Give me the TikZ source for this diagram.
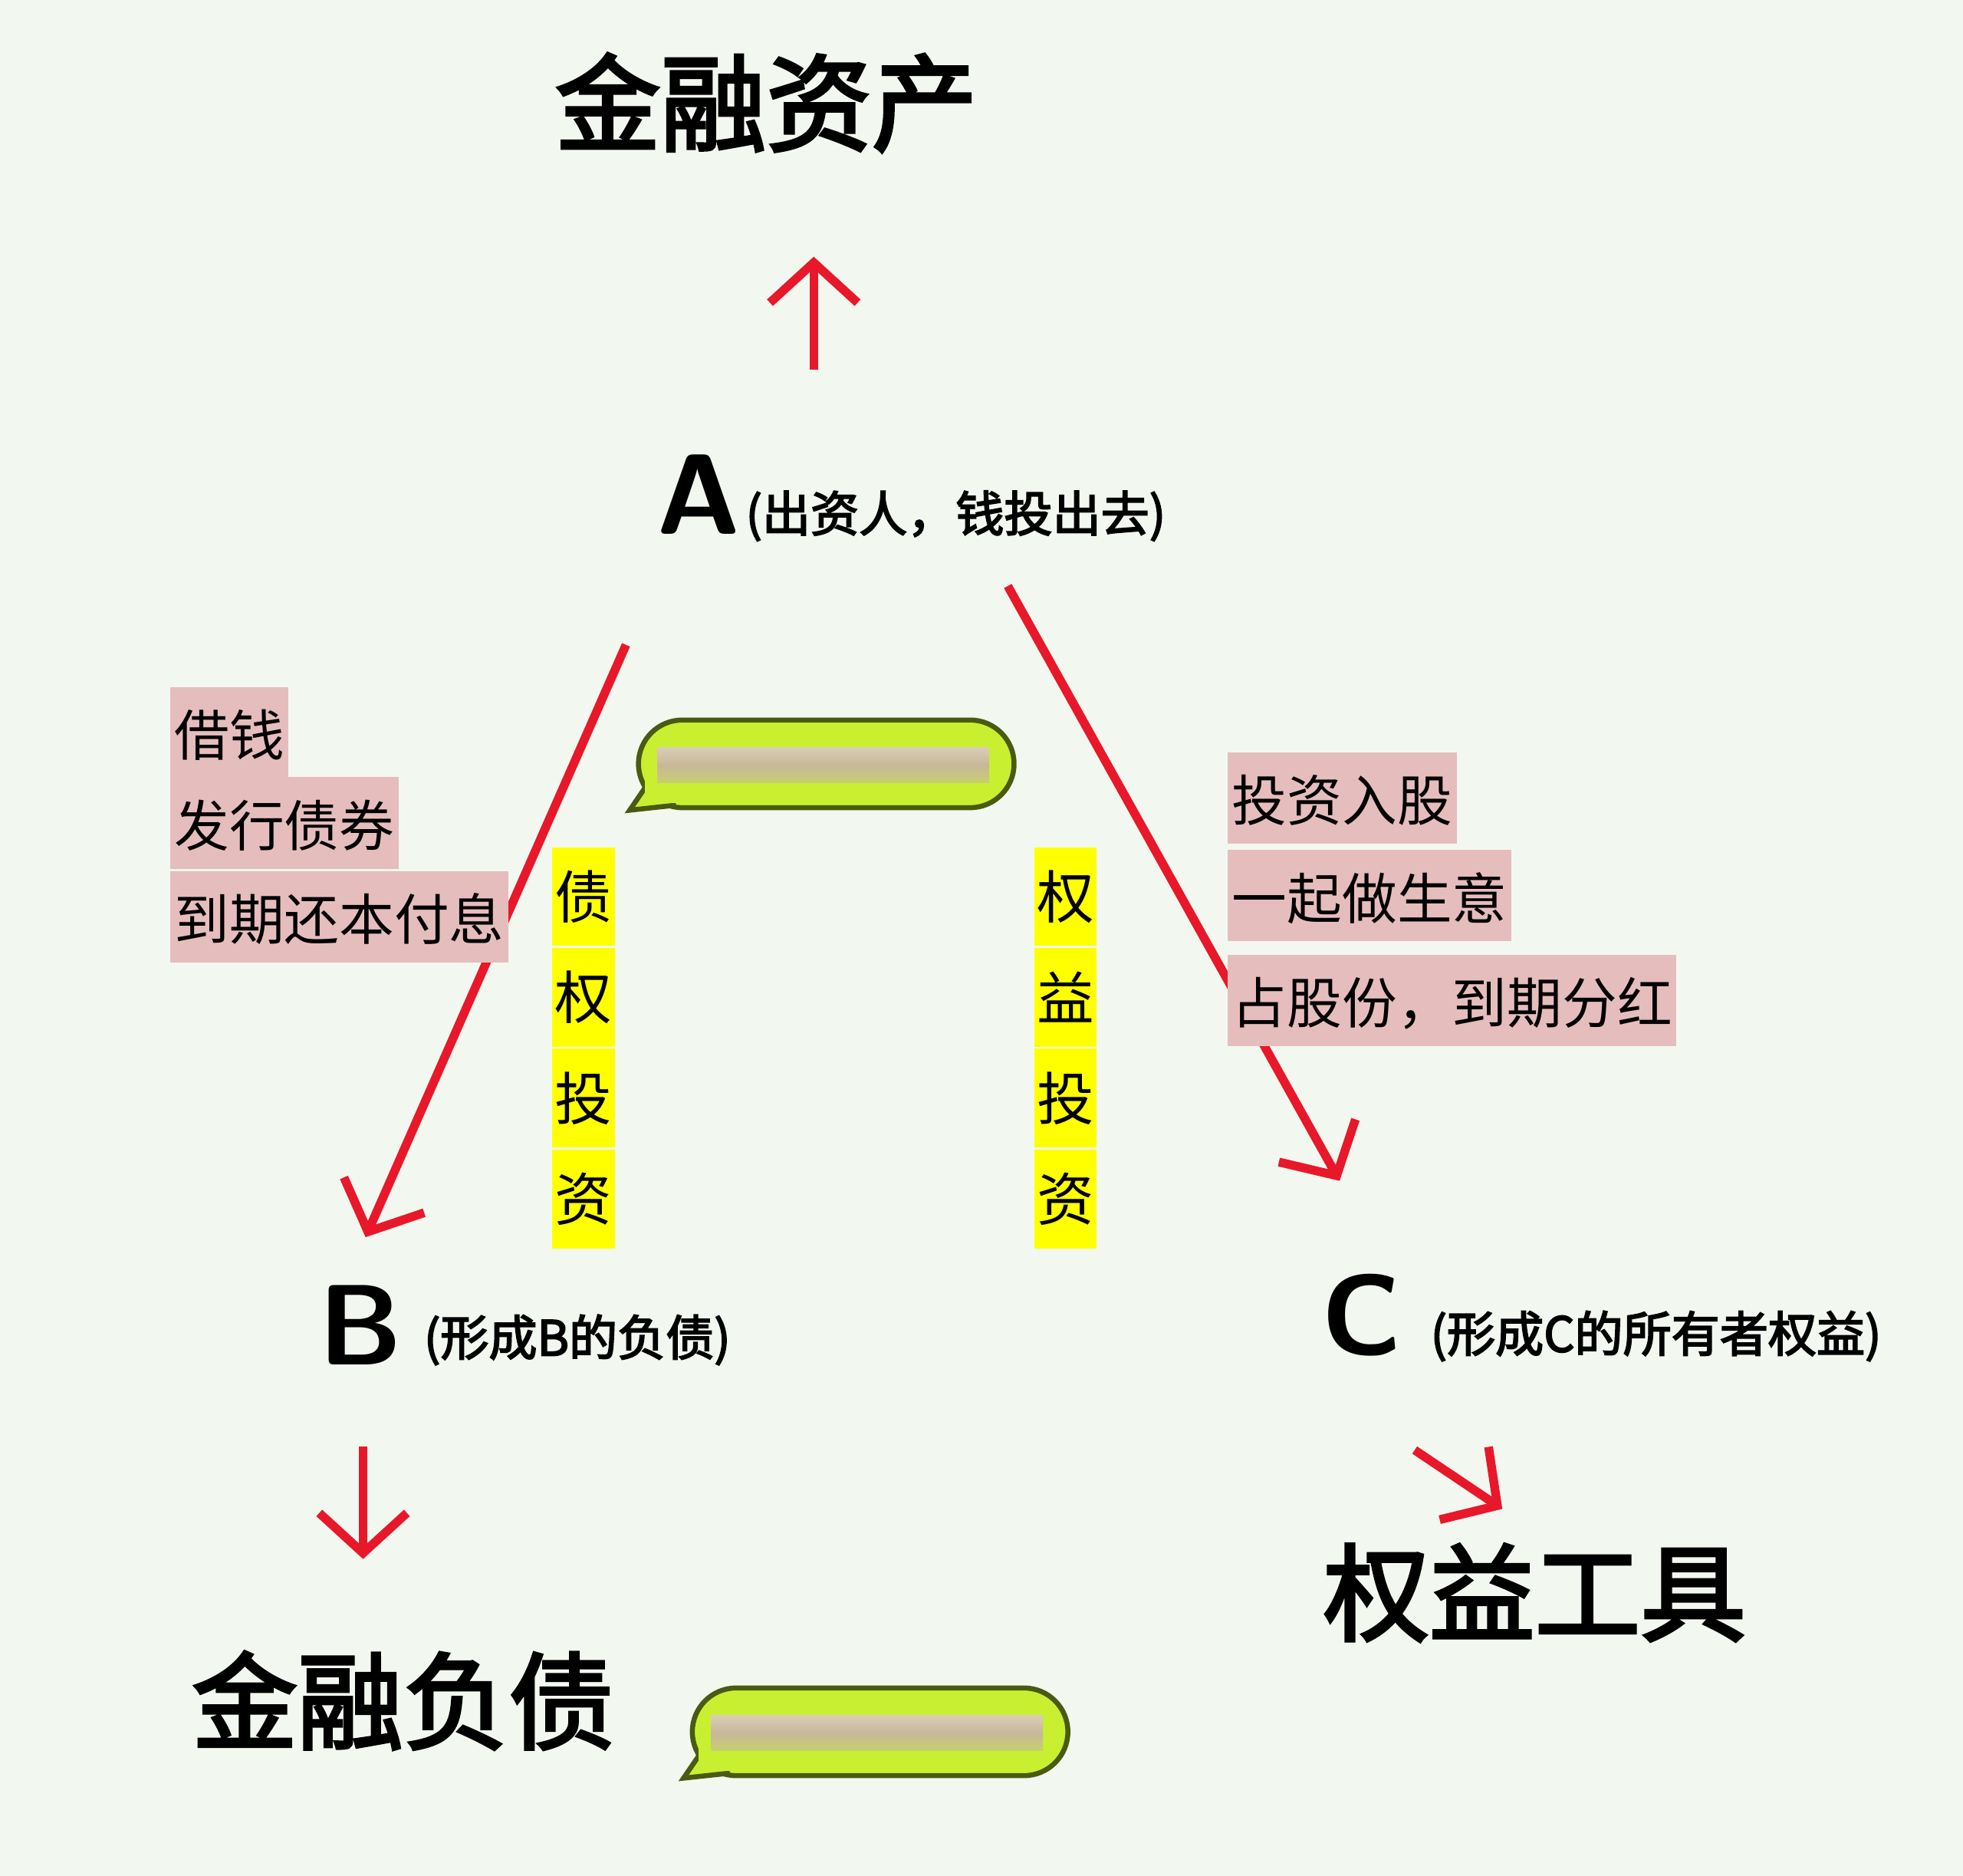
\documentclass[tikz,border=0pt]{standalone}
\usepackage{fontspec}
\usepackage{tikz}
\usetikzlibrary{arrows.meta}
\newfontfamily\cjk{Noto Sans CJK SC}
\newfontfamily\cjkb[FakeBold=3]{Noto Sans CJK SC}
\definecolor{bgmint}{HTML}{F2F8F0}
\definecolor{arrowred}{HTML}{E8182A}
\definecolor{tagpink}{HTML}{E6BDBD}
\definecolor{tagyellow}{HTML}{FFFF00}
\definecolor{bubblegreen}{HTML}{C8F030}
\definecolor{bubbleedge}{HTML}{4A5A10}
\definecolor{barbeige}{HTML}{C8B898}
\tikzset{
  redarrow/.style={draw=arrowred, line width=0.7mm, -{Straight Barb[length=3.2mm,width=7mm,line width=0.7mm]}},
  bigtitle/.style={font=\cjkb\fontsize{24}{24}\selectfont},
  letter/.style={font=\sffamily\bfseries\fontsize{26}{26}\selectfont},
  remark/.style={font=\cjkb\fontsize{11}{11}\selectfont, inner sep=0pt},
  pinktag/.style={fill=tagpink, font=\cjk\fontsize{12.5}{12.5}\selectfont, anchor=north west, inner xsep=1pt, inner ysep=0pt, minimum height=7.3mm, text depth=0pt},
  yellowtag/.style={fill=tagyellow, font=\cjk\fontsize{13}{13}\selectfont, minimum width=5mm, minimum height=7.9mm, inner sep=0pt}
}
\newcommand{\bubble}[3]{% x left, y top, name
  \fill[bubblegreen, draw=bubbleedge, line width=0.4mm, rounded corners=3.5mm]
    (#1,#2) rectangle ++(3.0,-0.7);
  \fill[bubblegreen, draw=bubbleedge, line width=0.4mm]
    (#1+0.08,#2-0.5) -- (#1-0.07,#2-0.72) -- (#1+0.3,#2-0.68);
  \fill[bubblegreen] (#1+0.05,#2-0.45) rectangle (#1+0.4,#2-0.66);
  \shade[top color=barbeige!70!white, bottom color=barbeige!60!bubblegreen, middle color=barbeige]
    (#1+0.15,#2-0.22) rectangle (#1+2.8,#2-0.5);
  \coordinate (#3) at (#1+1.5,#2-0.35);
}
\begin{document}
\begin{tikzpicture}
\fill[bgmint] (0,0) rectangle (15.68,-14.98);
\useasboundingbox (0,0) rectangle (15.68,-14.98);
%%% top: A and financial asset
\node[bigtitle] (asset) at (6.12,-0.82) {金融资产};
\node[letter] (A) at (5.58,-3.95) {A};
\node[remark, anchor=west] (Anote) at (5.95,-4.12) {(出资人，钱投出去)};
\coordinate (upS) at (6.5,-2.95);
\coordinate (upE) at (6.5,-2.05);
\draw[redarrow] (upS) -- (upE);
%%% left branch: debt
\coordinate (leftS) at (5.0,-5.15);
\coordinate (leftE) at (2.92,-9.88);
\draw[redarrow] (leftS) -- (leftE);
\node[pinktag] (t1) at (1.35,-5.48) {借钱};
\node[pinktag] (t2) at (1.35,-6.2) {发行债券};
\node[pinktag] (t3) at (1.35,-6.95) {到期还本付息};
\foreach \c [count=\i] in {债,权,投,资}
  \node[yellowtag] (dy\i) at (4.66,-7.16-0.805*\i+0.805) {\c};
\node[letter] (B) at (2.88,-10.58) {B};
\node[remark, anchor=west] (Bnote) at (3.38,-10.7) {(形成B的负债)};
\coordinate (downS) at (2.9,-11.55);
\coordinate (downE) at (2.9,-12.45);
\draw[redarrow] (downS) -- (downE);
\node[bigtitle] (liab) at (3.22,-13.58) {金融负债};
%%% right branch: equity
\coordinate (rightS) at (8.05,-4.68);
\coordinate (rightE) at (10.7,-9.43);
\draw[redarrow] (rightS) -- (rightE);
\node[pinktag] (r1) at (9.8,-6.0) {投资入股};
\node[pinktag] (r2) at (9.8,-6.78) {一起做生意};
\node[pinktag] (r3) at (9.8,-7.62) {占股份，到期分红};
\foreach \c [count=\i] in {权,益,投,资}
  \node[yellowtag] (ey\i) at (8.51,-7.16-0.805*\i+0.805) {\c};
\node[letter] (C) at (10.88,-10.5) {C};
\node[remark, anchor=west] (Cnote) at (11.42,-10.67) {(形成C的所有者权益)};
\coordinate (diagS) at (11.3,-11.58);
\coordinate (diagE) at (12.0,-12.05);
\draw[redarrow] (diagS) -- (diagE);
\node[bigtitle] (tool) at (12.26,-12.72) {权益工具};
%%% bubbles
\bubble{5.1}{-5.75}{bubA}
\bubble{5.53}{-13.48}{bubB}
\end{tikzpicture}
\end{document}
